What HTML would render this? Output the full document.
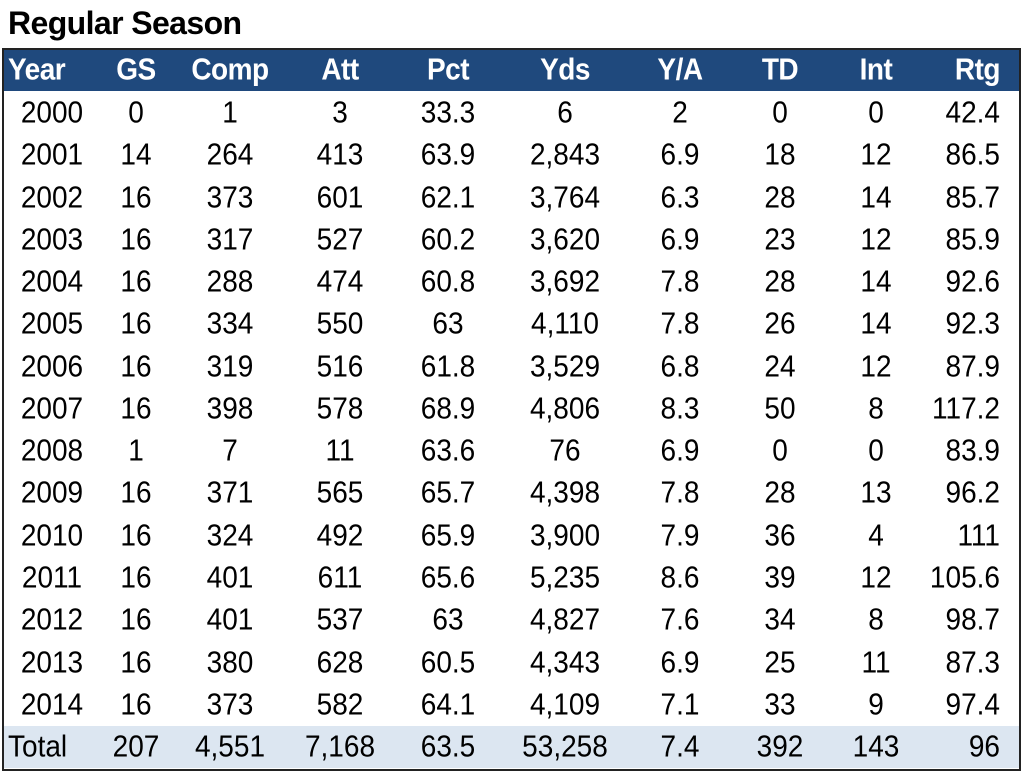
<!DOCTYPE html>
<html><head><meta charset="utf-8"><style>
html,body{margin:0;padding:0;background:#fff;}
body{width:1024px;height:772px;position:relative;overflow:hidden;font-family:"Liberation Sans",sans-serif;}
.t{position:absolute;left:8px;top:5px;font-size:32px;font-weight:bold;color:#000;letter-spacing:-0.6px;}
.box{position:absolute;left:2px;top:48px;width:1015px;height:719px;border:2px solid #222;}
.hdr{position:absolute;left:4px;top:50px;width:1015px;height:41px;background:#1f497d;}
.tot{position:absolute;left:4px;top:726px;width:1015px;height:42px;background:#dce6f1;}
.c{position:absolute;width:200px;text-align:center;font-size:28px;line-height:30px;color:#000;transform:scaleY(1.08);}
.r{position:absolute;width:200px;text-align:right;font-size:28px;line-height:30px;color:#000;transform:scaleY(1.08);transform-origin:right center;}
.h{color:#fff;font-weight:bold;letter-spacing:-0.5px;}
</style></head><body>
<div class="t">Regular Season</div>
<div class="hdr"></div>
<div class="tot"></div>
<div class="box"></div>
<div id="g"></div>
<script>
var cols=[52,136,230,340,448,565,680,780,876,1000];
var hd=["Year","GS","Comp","Att","Pct","Yds","Y/A","TD","Int","Rtg"];
var rows=[
["2000","0","1","3","33.3","6","2","0","0","42.4"],
["2001","14","264","413","63.9","2,843","6.9","18","12","86.5"],
["2002","16","373","601","62.1","3,764","6.3","28","14","85.7"],
["2003","16","317","527","60.2","3,620","6.9","23","12","85.9"],
["2004","16","288","474","60.8","3,692","7.8","28","14","92.6"],
["2005","16","334","550","63","4,110","7.8","26","14","92.3"],
["2006","16","319","516","61.8","3,529","6.8","24","12","87.9"],
["2007","16","398","578","68.9","4,806","8.3","50","8","117.2"],
["2008","1","7","11","63.6","76","6.9","0","0","83.9"],
["2009","16","371","565","65.7","4,398","7.8","28","13","96.2"],
["2010","16","324","492","65.9","3,900","7.9","36","4","111"],
["2011","16","401","611","65.6","5,235","8.6","39","12","105.6"],
["2012","16","401","537","63","4,827","7.6","34","8","98.7"],
["2013","16","380","628","60.5","4,343","6.9","25","11","87.3"],
["2014","16","373","582","64.1","4,109","7.1","33","9","97.4"],
["Total","207","4,551","7,168","63.5","53,258","7.4","392","143","96"]];
var h="";
function cell(txt,j,cy,cls){
  if(j==9) return '<div class="r '+cls+'" style="left:800px;top:'+(cy-15)+'px">'+txt+'</div>';
  if(j==0 && (txt=="Year"||txt=="Total")) return '<div class="c '+cls+'" style="text-align:left;transform-origin:left center;left:8px;top:'+(cy-15)+'px">'+txt+'</div>';
  return '<div class="c '+cls+'" style="left:'+(cols[j]-100)+'px;top:'+(cy-15)+'px">'+txt+'</div>';
}
for(var j=0;j<10;j++) h+=cell(hd[j],j,70,"h");
for(var i=0;i<rows.length;i++){
  var cy=113+i*42.27;
  for(var j=0;j<10;j++) h+=cell(rows[i][j],j,cy,"");
}
document.getElementById("g").innerHTML=h;
</script>
</body></html>
